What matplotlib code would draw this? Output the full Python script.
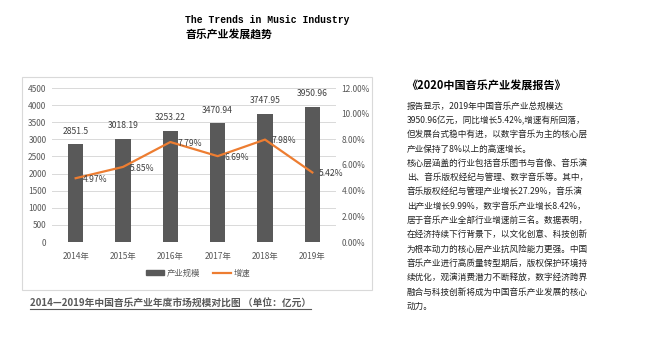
import matplotlib
matplotlib.use("Agg")
import matplotlib.pyplot as plt
from matplotlib.patches import Rectangle
from matplotlib.lines import Line2D
import numpy as np

plt.rcParams['font.family'] = ['Noto Sans CJK SC', 'DejaVu Sans']

# data
years = ['2014年', '2015年', '2016年', '2017年', '2018年', '2019年']
scale = [2851.5, 3018.19, 3253.22, 3470.94, 3747.95, 3950.96]
scale_labels = ['2851.5', '3018.19', '3253.22', '3470.94', '3747.95', '3950.96']
growth = [4.97, 5.85, 7.79, 6.69, 7.98, 5.42]  # percent
left_ticks = [0, 500, 1000, 1500, 2000, 2500, 3000, 3500, 4000, 4500]
right_ticks = [0, 2, 4, 6, 8, 10, 12]

report_title = '《2020中国音乐产业发展报告》'
report_lines = [
    '报告显示，2019年中国音乐产业总规模达',
    '3950.96亿元，同比增长5.42%,增速有所回落，',
    '但发展台式稳中有进，以数字音乐为主的核心层',
    '产业保持了8%以上的高速增长。',
    '核心层涵盖的行业包括音乐图书与音像、音乐演',
    '出、音乐版权经纪与管理、数字音乐等。其中，',
    '音乐版权经纪与管理产业增长27.29%，音乐演',
    '出产业增长9.99%，数字音乐产业增长8.42%，',
    '居于音乐产业全部行业增速前三名。数据表明，',
    '在经济持续下行背景下，以文化创意、科技创新',
    '为根本动力的核心层产业抗风险能力更强。中国',
    '音乐产业进行高质量转型期后，版权保护环境持',
    '续优化，观演消费潜力不断释放，数字经济跨界',
    '融合与科技创新将成为中国音乐产业发展的核心',
    '动力。',
]

W, H = 650, 358
fig = plt.figure(figsize=(6.5, 3.58), dpi=100)
fig.patch.set_facecolor('white')

def fx(px):
    return px / W

def fy(py):
    return 1 - py / H

# header
fig.text(fx(185), fy(20), 'The Trends in Music Industry', fontsize=7, fontweight='bold',
         family=['Liberation Mono', 'DejaVu Sans Mono'], va='center', ha='left')
fig.text(fx(185), fy(34), '音乐产业发展趋势', fontsize=7.8, fontweight='bold',
         va='center', ha='left')

# chart frame
fig.patches.append(Rectangle((fx(22), fy(290)), fx(372) - fx(22), fy(77) - fy(290),
                             transform=fig.transFigure, fill=False,
                             edgecolor='#d9d9d9', linewidth=0.8))

ax = fig.add_axes([fx(52), fy(242), fx(336) - fx(52), fy(88) - fy(242)])
x = np.arange(len(years))
ax.bar(x, scale, width=0.33, color='#595959', zorder=2, label='产业规模')
ax.set_xlim(-0.5, len(years) - 0.5)
ax.set_ylim(0, 4500)
ax.set_yticks(left_ticks)
ax.set_xticks(x)
ax.set_xticklabels(years)
ax.grid(axis='y', color='#d9d9d9', linewidth=0.7, zorder=0)
for s in ax.spines.values():
    s.set_visible(False)
ax.tick_params(length=0, labelsize=6, colors='#595959', pad=4)
ax.tick_params(axis='x', pad=7)
for xi, v, lab in zip(x, scale, scale_labels):
    ax.annotate(lab, (xi, v), xytext=(0, 6), textcoords='offset points',
                ha='center', va='bottom', fontsize=6.2, color='#404040')

ax2 = ax.twinx()
ax2.plot(x, growth, color='#ed7d31', linewidth=1.6, zorder=3, label='增速')
ax2.set_ylim(0, 12)
ax2.set_yticks(right_ticks)
ax2.set_yticklabels(['%.2f%%' % t for t in right_ticks])
for s in ax2.spines.values():
    s.set_visible(False)
ax2.tick_params(length=0, labelsize=6, colors='#595959', pad=4)
for xi, g in zip(x, growth):
    ax2.annotate('%.2f%%' % g, (xi, g), xytext=(5, -1), textcoords='offset points',
                 ha='left', va='center', fontsize=6.2, color='#404040')

handles = [Rectangle((0, 0), 1, 1, color='#595959'),
           Line2D([0], [0], color='#ed7d31', linewidth=1.6)]
fig.legend(handles, ['产业规模', '增速'], loc='center', bbox_to_anchor=(fx(198), fy(273)),
           ncol=2, frameon=False, fontsize=6, labelcolor='#595959',
           handlelength=2.2, handleheight=0.5, columnspacing=1.5, handletextpad=0.3)

# caption with underline
cap = fig.text(fx(30), fy(303), '2014—2019年中国音乐产业年度市场规模对比图 （单位：亿元）',
               fontsize=7, fontweight='bold', color='#595959', va='center', ha='left')
fig.canvas.draw()
bb = cap.get_window_extent()
uy = bb.y0 - 1
fig.add_artist(Line2D([bb.x0 / W, bb.x1 / W], [uy / H, uy / H], transform=fig.transFigure,
                      color='#595959', linewidth=0.8))

# report text
fig.text(fx(406), fy(85), report_title, fontsize=8, fontweight='bold', va='center', ha='left')
for i, line in enumerate(report_lines):
    fig.text(fx(407), fy(106 + i * 14.3), line, fontsize=6.2, color='#222222',
             va='center', ha='left')

fig.savefig('out.png', dpi=100)
